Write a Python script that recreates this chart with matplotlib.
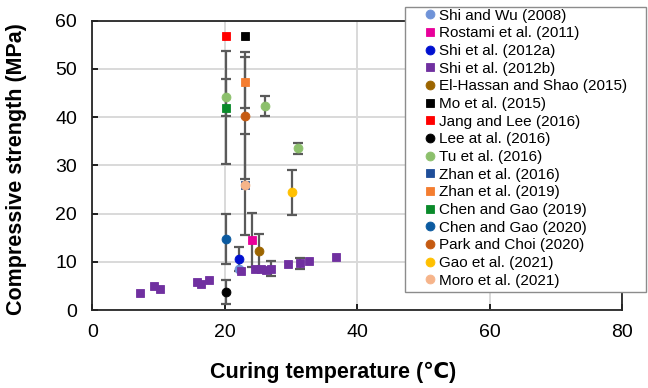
import matplotlib.pyplot as plt
from matplotlib.patches import Rectangle
import numpy as np

plt.rcParams['font.family'] = ['Liberation Sans', 'DejaVu Sans']

# curing temperature (C), strength (MPa), error (MPa)
shi_wu_x = [22.1]
shi_wu_y = [8.6]
shi_wu_e = [0]

rostami_x = [24.1]
rostami_y = [14.6]
rostami_e = [5.6]

shi_a_x = [22.1]
shi_a_y = [10.6]
shi_a_e = [2.5]

shi_b_x = [7.2, 9.3, 10.2, 15.8, 16.4, 17.6, 22.5, 24.6, 25.4, 26.2, 26.9, 29.5, 31.3, 32.7, 36.8]
shi_b_y = [3.6, 5.0, 4.4, 5.9, 5.4, 6.2, 8.0, 8.6, 8.4, 8.3, 8.6, 9.5, 9.7, 10.2, 10.9]
shi_b_e = [0, 0, 0, 0, 0, 0, 0, 0, 0, 0, 1.5, 0, 1.1, 0, 0]

elhassan_x = [25.1]
elhassan_y = [12.3]
elhassan_e = [3.5]

mo_x = [23.1]
mo_y = [56.8]
mo_e = [0]

jang_x = [20.1]
jang_y = [56.8]
jang_e = [0]

lee_x = [20.1]
lee_y = [3.7]
lee_e = [2.45]

tu_x = [20.1, 26.0, 31.1]
tu_y = [44.1, 42.3, 33.5]
tu_e = [3.8, 2.0, 1.2]

zhan16_x = [23.1]
zhan16_y = [26.0]
zhan16_e = [0]

zhan19_x = [23.1]
zhan19_y = [47.2]
zhan19_e = [5.3]

chen19_x = [20.1]
chen19_y = [41.9]
chen19_e = [11.7]

chen20_x = [20.1]
chen20_y = [14.7]
chen20_e = [5.2]

park_x = [23.1]
park_y = [40.3]
park_e = [13.2]

gao_x = [30.1]
gao_y = [24.4]
gao_e = [4.7]

moro_x = [23.1]
moro_y = [26.0]
moro_e = [10.5]

series = [
    ("Shi and Wu (2008)", shi_wu_x, shi_wu_y, shi_wu_e, 'o', '#6f93d8'),
    ("Rostami et al. (2011)", rostami_x, rostami_y, rostami_e, 's', '#e8009a'),
    ("Shi et al. (2012a)", shi_a_x, shi_a_y, shi_a_e, 'o', '#0010d0'),
    ("Shi et al. (2012b)", shi_b_x, shi_b_y, shi_b_e, 's', '#7030a0'),
    ("El-Hassan and Shao (2015)", elhassan_x, elhassan_y, elhassan_e, 'o', '#9c6500'),
    ("Mo et al. (2015)", mo_x, mo_y, mo_e, 's', '#000000'),
    ("Jang and Lee (2016)", jang_x, jang_y, jang_e, 's', '#ff0000'),
    ("Lee at al. (2016)", lee_x, lee_y, lee_e, 'o', '#000000'),
    ("Tu et al. (2016)", tu_x, tu_y, tu_e, 'o', '#8cc06c'),
    ("Zhan et al. (2016)", zhan16_x, zhan16_y, zhan16_e, 's', '#1f4e99'),
    ("Zhan et al. (2019)", zhan19_x, zhan19_y, zhan19_e, 's', '#f47d30'),
    ("Chen and Gao (2019)", chen19_x, chen19_y, chen19_e, 's', '#0a8a2a'),
    ("Chen and Gao (2020)", chen20_x, chen20_y, chen20_e, 'o', '#0b5aa0'),
    ("Park and Choi (2020)", park_x, park_y, park_e, 'o', '#c55a11'),
    ("Gao et al. (2021)", gao_x, gao_y, gao_e, 'o', '#ffc000'),
    ("Moro et al. (2021)", moro_x, moro_y, moro_e, 'o', '#f6b48a'),
]

fig = plt.figure(figsize=(6.48, 3.88), dpi=100)
ax = fig.add_axes([0.1427, 0.201, 0.8173, 0.746])

# error bars first, behind all markers
for name, xs, ys, es, mk, col in series:
    for x, y, e in zip(xs, ys, es):
        if e > 0:
            ax.errorbar([x], [y], yerr=[e], fmt='none', ecolor='#5a5a5a',
                        elinewidth=1.6, capsize=3.5, capthick=1.6, zorder=3)

for name, xs, ys, es, mk, col in series:
    ms = 6.4 if mk == 'o' else 5.8
    ax.plot(xs, ys, linestyle='none', marker=mk, markersize=ms, color=col,
            markeredgecolor=col, markeredgewidth=0.6, label=name, zorder=4)

ax.set_xlim(0, 80)
ax.set_ylim(0, 60)
ax.set_xticks(np.arange(0, 81, 20))
ax.set_yticks(np.arange(0, 61, 10))
ax.grid(True, color='#d9d9d9', linewidth=1.4, zorder=0)
ax.set_axisbelow(True)
ax.tick_params(direction='in', length=4, width=1.2, labelsize=14)
ax.tick_params(axis='x', pad=10)
ax.tick_params(axis='y', pad=11)
for s in ax.spines.values():
    s.set_linewidth(1.3)
    s.set_color('#262626')

ax.set_xlabel('Curing temperature (℃)', fontsize=15.5, fontweight='bold')
ax.xaxis.set_label_coords(0.454, -0.214)
ax.xaxis.label.set_va('center')
ax.set_ylabel('Compressive strength (MPa)', fontsize=15.5, fontweight='bold')
ax.yaxis.set_label_coords(-0.1426, 0.487)
ax.yaxis.label.set_va('center')

# legend frame drawn as its own box (wider padding than legend allows)
box = Rectangle((0.625, 0.2474), 0.372, 0.7345, transform=fig.transFigure,
                facecolor='white', edgecolor='#8c8c8c', linewidth=1.0, zorder=4)
fig.patches.append(box)

leg = fig.legend(loc='upper left', bbox_to_anchor=(0.656, 0.978), fontsize=11,
                 frameon=False, handlelength=0.6, handletextpad=0.3,
                 labelspacing=0.24, borderpad=0, borderaxespad=0,
                 markerscale=1.0)
leg.set_zorder(5)

fig.savefig('out.png', dpi=100)
